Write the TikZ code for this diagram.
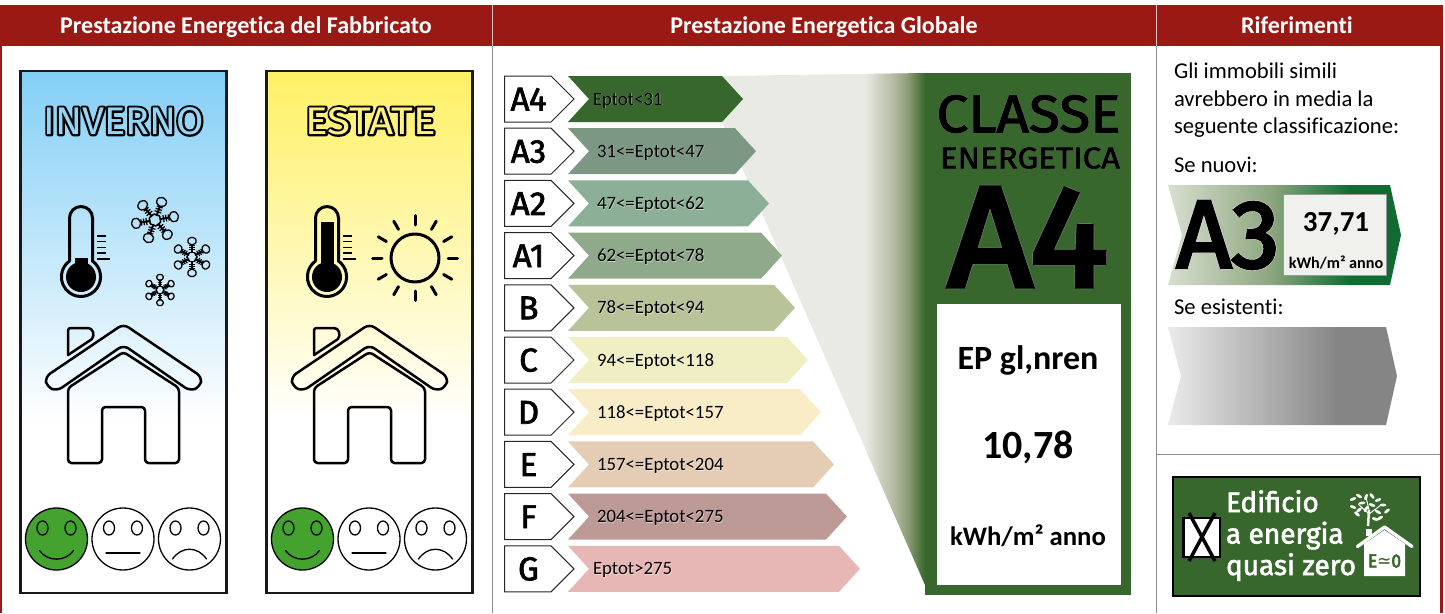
\documentclass[tikz,border=0pt]{standalone}
\usepackage{fontspec}
\usepackage{graphicx}
\setmainfont{Carlito}[Ligatures={NoCommon}]
\newfontfamily\din{Fira Sans}[FakeBold=2.2]
\newfontfamily\dinheavy{Fira Sans}[FakeBold=3.5]
\newfontfamily\dinout{Fira Sans}[FakeBold=11]
\newfontfamily\dinplain{Fira Sans}
\newfontfamily\dinthin{Fira Sans}[FakeBold=3.2]
\newfontfamily\dinedge{Fira Sans}[FakeBold=4.3]
\newfontfamily\sym{DejaVu Sans}
\definecolor{hdr}{HTML}{9B1914}
\definecolor{grn}{HTML}{38672D}
\definecolor{gback}{HTML}{E9EAE4}
\definecolor{smile}{HTML}{43A32E}
\definecolor{skyc}{HTML}{83CFF6}
\definecolor{sunc}{HTML}{FFF064}
\definecolor{aqf}{HTML}{93D5F7}
\definecolor{yqf}{HTML}{FFF27E}
\definecolor{rA}{HTML}{38672D}
\definecolor{rB}{HTML}{7C9885}
\definecolor{rC}{HTML}{8BAF97}
\definecolor{rD}{HTML}{8EAA8A}
\definecolor{rE}{HTML}{B8C39A}
\definecolor{rF}{HTML}{F0EFC4}
\definecolor{rG}{HTML}{F9EDC7}
\definecolor{rH}{HTML}{E5CCB5}
\definecolor{rI}{HTML}{BE9A97}
\definecolor{rJ}{HTML}{E7B7B5}
\definecolor{fmid}{HTML}{B0B79E}
\definecolor{fmidb}{HTML}{8E9E78}
\pgfdeclarehorizontalshading{fadegreen}{100bp}{color(0bp)=(gback); color(25bp)=(gback); color(50bp)=(fmid); color(60bp)=(fmidb); color(75bp)=(grn); color(100bp)=(grn)}
\definecolor{ga}{HTML}{D8DFD0}
\definecolor{gb}{HTML}{8DA67F}
\definecolor{gc}{HTML}{126B33}
\pgfdeclarehorizontalshading{arrowgreen}{100bp}{color(0bp)=(ga); color(25bp)=(ga); color(47bp)=(gb); color(64bp)=(gc); color(100bp)=(gc)}
\definecolor{ha}{HTML}{EAEAEA}
\definecolor{hb}{HTML}{858585}
\pgfdeclarehorizontalshading{arrowgrey}{100bp}{color(0bp)=(ha); color(25bp)=(ha); color(62bp)=(hb); color(100bp)=(hb)}
\tikzset{
  txt/.style={inner sep=0pt,outer sep=0pt,anchor=center},
  txtb/.style={inner sep=0pt,outer sep=0pt,anchor=base},
  txtl/.style={inner sep=0pt,outer sep=0pt,anchor=base west},
  hdrtext/.style={txtb,text=white,font=\bfseries\fontsize{24}{26}\selectfont},
  reftext/.style={txtl,text=black,font=\fontsize{22.6}{26}\selectfont},
  rowtext/.style={txtl,text=black,font=\fontsize{18.8}{22}\selectfont},
  rowshadow/.style={txtl,text=white,opacity=.5,font=\fontsize{18.8}{22}\selectfont},
  icon/.style={draw=black,line width=2.5pt,line join=round,line cap=round},
  iconthick/.style={draw=black,line width=3pt,line join=round,line cap=round},
  facelook/.style={draw=black,line width=1.3pt},
}
\newcommand\fitt[3]{\resizebox{#1pt}{#2pt}{#3}}
\newcommand\rj{\special{pdf:code 1 j}}
\newcommand\snowf[4]{% x y r rot
  \begin{scope}[shift={(#1,#2)},rotate=#4]
    \foreach \a in {0,60,...,300}{
      \begin{scope}[rotate=\a]
        \draw[line width=1.5pt,line join=round] (#3*.22,-#3*.13) -- (#3*.22,#3*.13);
        \draw[line width=2pt] (#3*.2,0) -- (#3*.62,0);
        \draw[line width=1.2pt] (#3*.36,-#3*.15) -- (#3*.36,#3*.15) (#3*.47,-#3*.14) -- (#3*.47,#3*.14) (#3*.58,-#3*.13) -- (#3*.58,#3*.13);
        \draw[line width=1.3pt,line join=round,rounded corners=1pt] (#3*.6,0) -- (#3*.7,-#3*.2) -- (#3*.9,-#3*.2) -- (#3*1,0) -- (#3*.9,#3*.2) -- (#3*.7,#3*.2) -- cycle;
      \end{scope}}
  \end{scope}}
\newcommand\face[3]{% cx fill kind
  \begin{scope}[shift={(#1,539)}]
    \draw[facelook,fill=#2] (0,0) circle[radius=31pt];
    \draw[facelook] (-14,-11) ellipse[x radius=5.5pt,y radius=7pt] (14,-11) ellipse[x radius=5.5pt,y radius=7pt];
    \ifcase#3\relax
      \draw[facelook,line cap=round] (-17,11.5) .. controls (-9,23) and (9,23) .. (17,11.5);
    \or
      \draw[facelook,line cap=round] (-17,14) -- (17,14);
    \or
      \draw[facelook,line cap=round] (-17,20) .. controls (-8,7) and (8,7) .. (17,20);
    \fi
  \end{scope}}
\newcommand\homeicon{%
  \draw[icon,rounded corners=2.5pt] (68,355) -- (68,328) -- (88,328);
  \draw[icon] (88,328) .. controls (93,328) and (95,335) .. (92,339) -- (68,355);
  \draw[icon,rounded corners=6pt,fill=none] (123.5,324) -- (202,377) -- (200,387) -- (190,391) -- (123.5,345) -- (57,391) -- (47,387) -- (45,377) -- cycle;
  \draw[icon,rounded corners=3.5pt] (68,463) -- (68,388) -- (123.5,352) -- (179,388) -- (179,463) -- (145,463) -- (145,407) -- (102,407) -- (102,463) -- cycle;
  \face{56.5}{smile}{0}
  \face{123}{white}{1}
  \face{189.5}{white}{2}
}
\newcommand\thermo[1]{% level y
  \draw[iconthick] (69.5,261) -- (69.5,218) arc[start angle=180,end angle=0,radius=11.5pt] -- (92.5,261) arc[start angle=54,end angle=-234,radius=19.6pt];
  \fill[black] (81,277) circle[radius=15pt];
  \fill[black] (74.5,#1) rectangle (87.5,270);
  \draw[line width=1.3pt] (97,236) -- (106,236) (97,241.7) -- (106,241.7) (97,247.5) -- (106,247.5) (97,253) -- (106,253) (97,259) -- (110,259);
}
\begin{document}
\begin{tikzpicture}[x=1pt,y=-1pt]
\useasboundingbox (0,0) rectangle (1445,613);
\fill[white] (0,0) rectangle (1445,613);
% frame
\fill[hdr] (0,5) rectangle (1443,46);
\fill[hdr] (0,46) rectangle (1.5,613);
\fill[hdr] (1439.5,46) rectangle (1443,613);
\draw[black!45,line width=1pt] (492,46) -- (492,613) (1156.5,46) -- (1156.5,613);
\draw[white!75!hdr,line width=1pt] (492,5) -- (492,46) (1156.5,5) -- (1156.5,46);
\draw[black!45,line width=1pt] (1156.5,454) -- (1439.5,454);
\node[hdrtext] (h1) at (246,33.5) {Prestazione Energetica del Fabbricato};
\node[hdrtext] (h2) at (824,33.5) {Prestazione Energetica Globale};
\node[hdrtext] (h3) at (1297,33.5) {Riferimenti};
% INVERNO panel
\shade[top color=skyc,bottom color=white] (20,71) rectangle (226.5,423);
\draw[black!90,line width=2.4pt] (20.5,71) rectangle (226.5,593);
\node[txt] (invb) at (123.5,121) {\fitt{160}{27}{\rj\dinout INVERNO}};
\node[txt,text=aqf] (invf) at (123.5,121) {\fitt{160}{27}{\dinplain INVERNO}};
\thermo{258}
\snowf{155}{220}{24}{10}
\snowf{192}{257}{20}{30}
\snowf{160}{290}{16}{30}
\homeicon
% ESTATE panel
\shade[top color=sunc,bottom color=white] (266,71) rectangle (472.5,423);
\draw[black!90,line width=2.4pt] (266.5,71) rectangle (472.5,593);
\node[txt] (estb) at (370.5,121) {\fitt{130}{27}{\rj\dinout ESTATE}};
\node[txt,text=yqf] (estf) at (370.5,121) {\fitt{130}{27}{\dinplain ESTATE}};
\begin{scope}[xshift=246pt]
  \thermo{222}
  \homeicon
\end{scope}
\draw[iconthick] (415,258) circle[radius=24pt];
\foreach \a in {0,30,...,330}{
  \draw[line width=3pt,line cap=round] (415,258) ++(\a:33pt) -- ++(\a:9.5pt);
}
% energy scale background
\fill[gback] (722,76) -- (925,73) -- (925,585) -- (722,122) -- cycle;
\begin{scope}
  \clip (722,76) -- (925,73) -- (925,585) -- (722,122) -- cycle;
  \shade[shading=fadegreen] (865,70) rectangle (925,590);
\end{scope}
\fill[grn] (925,73) rectangle (1131,595);
\fill[white] (937,304) rectangle (1121,585);
% scale rows
\foreach \lab/\range/\col/\i/\tx in {A4/Eptot<31/rA/0/593, A3/31<=Eptot<47/rB/1/597, A2/47<=Eptot<62/rC/2/597, A1/62<=Eptot<78/rD/3/597, B/78<=Eptot<94/rE/4/597, C/94<=Eptot<118/rF/5/597, D/118<=Eptot<157/rG/6/597, E/157<=Eptot<204/rH/7/597, F/204<=Eptot<275/rI/8/597, G/Eptot>275/rJ/9/593}{
  \pgfmathsetmacro\ytop{76+\i*52.2}
  \pgfmathsetmacro\ybot{\ytop+46}
  \pgfmathsetmacro\ymid{\ytop+23}
  \pgfmathsetmacro\xend{722+\i*13}
  \pgfmathsetmacro\xtip{743+\i*13}
  \draw[draw=black!85,line width=1pt,fill=white] (504.5,\ytop) -- (551,\ytop) -- (574,\ymid) -- (551,\ybot) -- (504.5,\ybot) -- cycle;
  \fill[\col] (568,\ytop) -- (\xend,\ytop) -- (\xtip,\ymid) -- (\xend,\ybot) -- (568,\ybot) -- (589,\ymid) -- cycle;
  \node[txtb,font=\din\fontsize{33}{36}\selectfont] (lab\i) at (528.5,\ymid+11.5) {\lab};
  \node[rowshadow] (sh\i) at (\tx+.6,\ymid+6.6) {\range};
  \node[rowtext] (rng\i) at (\tx,\ymid+6) {\range};
}
% class text
\node[txt,text=black!55] (clb) at (1028.5,114) {\fitt{184}{37}{\rj\dinthin CLASSE}};
\node[txt,text=black] (clf) at (1028.5,114) {\fitt{184}{37}{\din CLASSE}};
\node[txt,text=black!55] (enb) at (1030,158) {\fitt{180}{21}{\rj\dinthin ENERGETICA}};
\node[txt,text=black] (enf) at (1030,158) {\fitt{180}{21}{\din ENERGETICA}};
\node[txt,text=black!50] (a4b) at (1028,237) {\fitt{160}{98}{\rj\dinedge A4}};
\node[txt,text=black] (a4f) at (1028,237) {\fitt{160}{98}{\dinheavy A4}};
\node[txtb,font=\bfseries\fontsize{34}{38}\selectfont] (ep) at (1028,369.5) {EP gl,nren};
\node[txtb,font=\bfseries\fontsize{40}{44}\selectfont] (val) at (1028,458.5) {10,78};
\node[txtb,font=\bfseries\fontsize{26.7}{30}\selectfont] (unit) at (1028,545) {kWh/m² anno};
% references
\node[reftext] (r1) at (1174,78) {Gli immobili simili};
\node[reftext] (r2) at (1174,106) {avrebbero in media la};
\node[reftext] (r3) at (1174,133) {seguente classificazione:};
\node[reftext] (r4) at (1174,172) {Se nuovi:};
\node[reftext] (r5) at (1174,314) {Se esistenti:};
\shade[shading=arrowgreen] (1168,185) -- (1390,185) -- (1401,235) -- (1390,285) -- (1168,285) -- (1182,235) -- cycle;
\fill[draw=white!60!black,line width=.5pt,fill=gback!70!white] (1283,194.5) rectangle (1386,275);
\node[txt,text=white] (a3b) at (1228,235) {\fitt{103}{66}{\rj\dinedge A3}};
\node[txt,text=black] (a3f) at (1228,235) {\fitt{103}{66}{\dinheavy A3}};
\node[txtb,font=\bfseries\fontsize{29}{32}\selectfont] (v37) at (1336,231) {37,71};
\node[txtb,font=\bfseries\fontsize{16.2}{18}\selectfont] (u37) at (1336,268) {kWh/m² anno};
\shade[shading=arrowgrey] (1168,327) -- (1386,327) -- (1397,376) -- (1386,425) -- (1168,425) -- (1181,376) -- cycle;
% nZEB box
\draw[black,line width=2.5pt,fill=grn] (1173,477) rectangle (1420,596);
\draw[black,line width=2.5pt,fill=white] (1183.5,518) rectangle (1220,557);
\draw[black,line width=3.5pt] (1189,513) -- (1215,561) (1215,513) -- (1189,561);
\node[txtl,text=white,font=\din\fontsize{28}{30}\selectfont] (e1) at (1226,512) {Edificio};
\node[txtl,text=white,font=\din\fontsize{28}{30}\selectfont] (e2) at (1226,543.5) {a energia};
\node[txtl,text=white,font=\din\fontsize{28}{30}\selectfont] (e3) at (1226,575) {quasi zero};
\fill[white] (1364,544) -- (1384.5,530) -- (1405,544) -- (1405,576) -- (1364,576) -- cycle;
\draw[white,line width=3.4pt,line cap=round,line join=round] (1357.5,546.5) -- (1384.5,527) -- (1412,546.5);
\fill[white] (1366,529) rectangle (1372,536);
\node[txt,text=grn] (e0) at (1384.5,561) {\fitt{33}{13}{\dinheavy E{\sym≃}0}};
\draw[white,line width=2.5pt] (1368,526) -- (1369,510);
\draw[white,line width=1pt] (1369,514) -- (1358,504) (1369,514) -- (1381,505) (1369,510) -- (1366,497);
\foreach \lx/\ly/\lr in {1353/499/20,1359/496/-30,1353/507/-20,1359/510/40,1366/497/70,1372/496/-50,1378/500/20,1383/505/0,1387/511/40,1378/512/-30,1362/503/10,1372/505/-20,1357/514/-40,1380/518/30,1366/509/60,1375/519/-20}{
  \fill[white,rotate around={\lr:(\lx,\ly)}] (\lx,\ly) ellipse[x radius=3.4pt,y radius=1.5pt];
}
\end{tikzpicture}
\end{document}
